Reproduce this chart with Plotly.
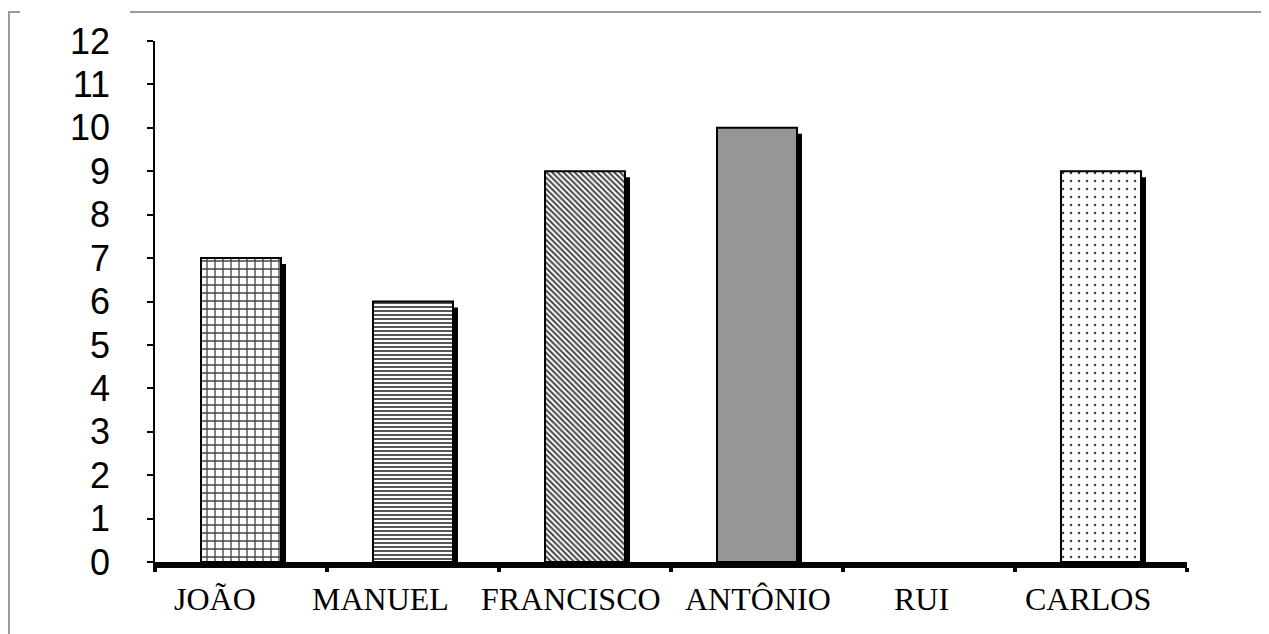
import plotly.graph_objects as go

categories = ["JOÃO", "MANUEL", "FRANCISCO", "ANTÔNIO", "RUI", "CARLOS"]
values = [7, 6, 9, 10, 0, 9]
y_ticks = list(range(0, 13))

pattern_shapes = ["+", "-", "\\", "", "", "."]
pattern_sizes = [8, 4, 4, 8, 8, 8]
pattern_solidity = [0.3, 0.45, 0.5, 0.3, 0.3, 0.08]
bar_colors = ["white", "white", "white", "#969696", "white", "white"]
label_xshift = [-26, -33, -14, 1, -8, -13]   # label placement (px) as in the original

# page offset (browser body margin)
OFF = 8
W, H = 1269 - OFF, 634 - OFF
ml, mt = 155 - OFF, 41 - OFF
pw, ph = 1032, 521
mr = W - ml - pw
mb = H - mt - ph
bar_w = 0.465
px_x = 1.0 / (pw / len(categories))   # category units per pixel
px_y = 12.0 / ph                      # value units per pixel

fig = go.Figure()

# shadow bars
fig.add_trace(go.Bar(
    x=categories, y=values,
    base=[-6 * px_y] * len(values),
    width=bar_w, offset=-bar_w / 2 + 5 * px_x,
    marker=dict(color="black", line=dict(width=0)),
    hoverinfo="skip", showlegend=False,
))

# main bars
fig.add_trace(go.Bar(
    x=categories, y=values,
    width=bar_w, offset=-bar_w / 2,
    marker=dict(
        color=bar_colors,
        line=dict(color="black", width=[2 if v > 0 else 0 for v in values]),
        pattern=dict(
            shape=pattern_shapes,
            size=pattern_sizes,
            solidity=pattern_solidity,
            fgcolor="black",
            fgopacity=1,
            bgcolor=bar_colors,
            fillmode="overlay",
        ),
    ),
    showlegend=False,
))

# frame (gray lines), page pixel coordinates -> paper
def px2paper_x(px):
    return (px - OFF - ml) / pw

def px2paper_y(py):
    return (H - mb - (py - OFF)) / ph

shapes = []
for x0, x1 in [(8, 20), (130, 1269)]:
    shapes.append(dict(type="line", xref="paper", yref="paper",
                       x0=px2paper_x(x0), x1=px2paper_x(x1),
                       y0=px2paper_y(12), y1=px2paper_y(12),
                       line=dict(color="#9a9a9a", width=2)))
shapes.append(dict(type="line", xref="paper", yref="paper",
                   x0=px2paper_x(9), x1=px2paper_x(9),
                   y0=px2paper_y(12), y1=px2paper_y(640),
                   line=dict(color="#9a9a9a", width=2)))

annotations = [
    dict(x=c, y=0, xref="x", yref="y", text=c, showarrow=False,
         xanchor="center", yanchor="top", xshift=s, yshift=-17,
         font=dict(family="Liberation Serif, Times New Roman, serif", size=32, color="black"))
    for c, s in zip(categories, label_xshift)
]

fig.update_layout(
    width=W, height=H,
    margin=dict(l=ml, r=mr, t=mt, b=mb, pad=0, autoexpand=False),
    paper_bgcolor="white", plot_bgcolor="white",
    barmode="overlay",
    shapes=shapes,
    annotations=annotations,
    xaxis=dict(
        type="category",
        range=[-0.5, len(categories) - 0.5],
        automargin=False,
        showgrid=False, zeroline=False,
        showline=True, linecolor="black", linewidth=6,
        ticks="outside", tickson="boundaries", ticklen=4, tickwidth=4, tickcolor="black",
        showticklabels=False,
    ),
    yaxis=dict(
        range=[0, 12],
        automargin=False,
        tickvals=y_ticks,
        ticktext=[str(v) for v in y_ticks],
        showgrid=False, zeroline=False,
        showline=True, linecolor="black", linewidth=1.5,
        ticks="outside", ticklen=6, tickwidth=1.5, tickcolor="black",
        tickfont=dict(family="Liberation Sans, Arial, sans-serif", size=36, color="black"),
        ticklabelstandoff=30,
    ),
)

fig.write_html("out.html")
